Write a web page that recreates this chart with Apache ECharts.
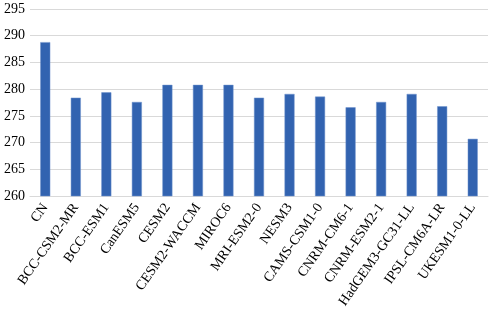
<!DOCTYPE html>
<html>
<head>
<meta charset="utf-8">
<script src="https://cdn.jsdelivr.net/npm/echarts@6/dist/echarts.min.js"></script>
<style>html,body{margin:0;padding:0;background:#fff}#c{width:491px;height:313px}</style>
</head>
<body>
<div id="c"></div>
<script>
var categories = ["CN","BCC-CSM2-MR","BCC-ESM1","CanESM5","CESM2","CESM2-WACCM","MIROC6","MRI-ESM2-0","NESM3","CAMS-CSM1-0","CNRM-CM6-1","CNRM-ESM2-1","HadGEM3-GC31-LL","IPSL-CM6A-LR","UKESM1-0-LL"];
var values = [288.8,278.4,279.4,277.6,280.8,280.8,280.8,278.4,279.1,278.6,276.6,277.6,279.1,276.8,270.7];
var chart = echarts.init(document.getElementById('c'));
chart.setOption({
  animation: false,
  grid: {left: 30, right: 3, top: 9, bottom: 117, containLabel: false},
  xAxis: {
    type: 'category', data: categories,
    axisLine: {lineStyle: {color: '#d9d9d9', width: 1}},
    axisTick: {show: false},
    axisLabel: {rotate: 55, interval: 0, margin: 9, color: '#000', fontFamily: 'Liberation Serif', fontSize: 14}
  },
  yAxis: {
    type: 'value', min: 260, max: 295, interval: 5,
    axisLine: {show: false}, axisTick: {show: false},
    splitLine: {lineStyle: {color: '#d9d9d9', width: 1}},
    axisLabel: {margin: 5, color: '#000', fontFamily: 'Liberation Serif', fontSize: 14}
  },
  series: [{
    type: 'bar', data: values, barWidth: 10,
    itemStyle: {color: '#3263b0', borderColor: '#6f93cc', borderWidth: 0.5}
  }]
});
</script>
</body>
</html>
